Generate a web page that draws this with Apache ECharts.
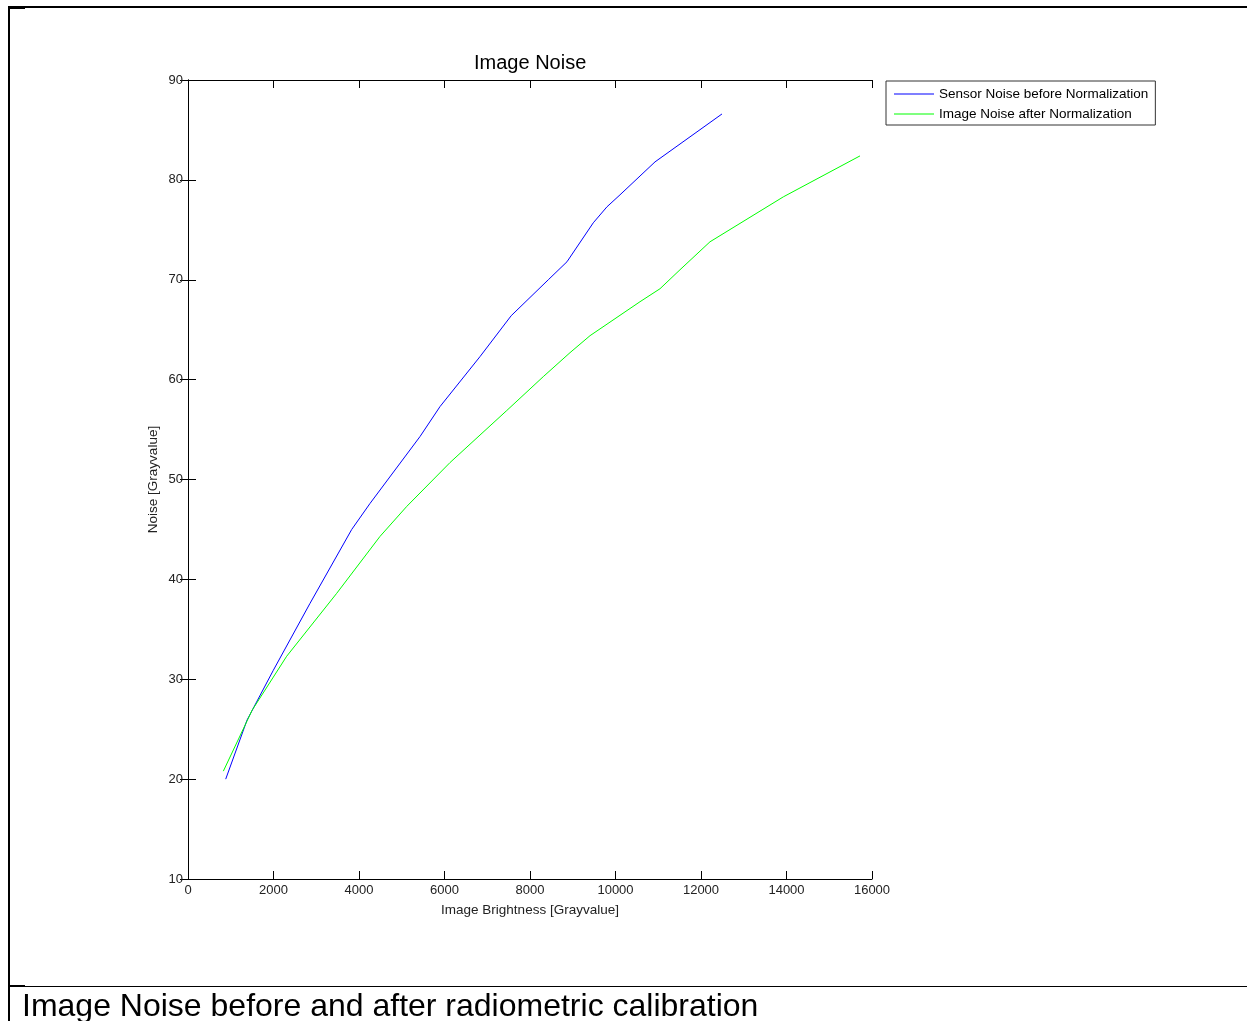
<!DOCTYPE html>
<html>
<head>
<meta charset="utf-8">
<script src="https://cdn.jsdelivr.net/npm/echarts@6/dist/echarts.min.js"></script>
<style>
html,body{margin:0;padding:0;background:#fff;}
#chart{width:1247px;height:1021px;}
</style>
</head>
<body>
<div id="chart"></div>
<script>
// ---- data ----
const seriesNames = ['Sensor Noise before Normalization', 'Image Noise after Normalization'];
const blueX = [882, 1380, 1996, 2854, 3830, 4257, 5427, 5895, 6830, 7560, 8428, 8865, 9480, 9800, 10105, 10924, 12491];
const blueY = [20.0, 25.9, 30.9, 37.6, 45.0, 47.6, 54.3, 57.3, 62.3, 66.4, 70.0, 71.8, 75.7, 77.3, 78.5, 81.8, 86.6];
const greenX = [827, 1500, 2308, 3478, 4491, 5116, 6130, 7455, 8311, 8936, 9404, 10573, 11041, 11509, 12210, 13926, 15719];
const greenY = [20.8, 26.9, 32.3, 38.6, 44.3, 47.3, 51.7, 56.9, 60.3, 62.7, 64.4, 67.8, 69.1, 71.0, 73.8, 78.3, 82.4];
const xTicks = {min: 0, max: 16000, interval: 2000};
const yTicks = {min: 10, max: 90, interval: 10};
const titleText = 'Image Noise';
const xName = 'Image Brightness [Grayvalue]';
const yName = 'Noise [Grayvalue]';
const captionText = 'Image Noise before and after radiometric calibration';
const seriesColors = ['#0000ff', '#00ff00'];

const pairs = (xs, ys) => xs.map((x, i) => [x, ys[i]]);
const FONT = 'Liberation Sans';

const chart = echarts.init(document.getElementById('chart'), null, {renderer: 'canvas'});

const baseAxisLine = {show: true, lineStyle: {color: '#000', width: 1}};
const tickIn = {show: true, inside: true, length: 8, lineStyle: {color: '#000', width: 1}};

chart.setOption({
  backgroundColor: '#fff',
  animation: false,
  title: {
    text: titleText,
    left: 474, top: 53, padding: 0,
    textStyle: {fontFamily: FONT, fontSize: 20, fontWeight: 'normal', color: '#000'}
  },
  legend: {
    orient: 'vertical',
    left: 886, top: 81,
    padding: [6, 7, 4, 8],
    itemGap: 6,
    itemWidth: 40, itemHeight: 1,
    icon: 'rect',
    itemStyle: {borderWidth: 0},
    borderColor: '#333', borderWidth: 1,
    backgroundColor: '#fff',
    textStyle: {fontFamily: FONT, fontSize: 13.5, color: '#000'},
    data: seriesNames.map((n, i) => ({name: n, itemStyle: {color: seriesColors[i], borderWidth: 0}}))
  },
  grid: {left: 188, top: 80, width: 684, height: 799, show: false, containLabel: false},
  xAxis: [
    {
      type: 'value', position: 'bottom', min: xTicks.min, max: xTicks.max, interval: xTicks.interval,
      axisLine: baseAxisLine, axisTick: tickIn, splitLine: {show: false},
      axisLabel: {fontFamily: FONT, fontSize: 13, color: '#222', margin: 5, formatter: v => String(v)},
      name: xName, nameLocation: 'middle', nameGap: 24,
      nameTextStyle: {fontFamily: FONT, fontSize: 13.5, color: '#222'}
    },
    {
      type: 'value', position: 'top', min: xTicks.min, max: xTicks.max, interval: xTicks.interval,
      axisLine: baseAxisLine, axisTick: tickIn, splitLine: {show: false},
      axisLabel: {show: false}
    }
  ],
  yAxis: [
    {
      type: 'value', position: 'left', min: yTicks.min, max: yTicks.max, interval: yTicks.interval,
      axisLine: baseAxisLine, axisTick: tickIn, splitLine: {show: false},
      axisLabel: {fontFamily: FONT, fontSize: 13, color: '#222', margin: 5},
      name: yName, nameLocation: 'middle', nameGap: 28, nameMoveOverlap: false,
      nameTextStyle: {fontFamily: FONT, fontSize: 13.5, color: '#222'}
    },
    {
      type: 'value', position: 'right', min: yTicks.min, max: yTicks.max, interval: yTicks.interval,
      axisLine: baseAxisLine, axisTick: tickIn, splitLine: {show: false},
      axisLabel: {show: false}
    }
  ],
  series: [
    {
      name: seriesNames[0], type: 'line', xAxisIndex: 0, yAxisIndex: 0,
      data: pairs(blueX, blueY), symbol: 'none', smooth: false,
      lineStyle: {color: seriesColors[0], width: 1}, itemStyle: {color: seriesColors[0]}
    },
    {
      name: seriesNames[1], type: 'line', xAxisIndex: 0, yAxisIndex: 0,
      data: pairs(greenX, greenY), symbol: 'none', smooth: false,
      lineStyle: {color: seriesColors[1], width: 1}, itemStyle: {color: seriesColors[1]}
    }
  ],
  graphic: [
    {type: 'rect', shape: {x: 8, y: 6, width: 1239, height: 2}, style: {fill: '#000'}, silent: true},
    {type: 'rect', shape: {x: 8, y: 6, width: 2, height: 1015}, style: {fill: '#000'}, silent: true},
    {type: 'rect', shape: {x: 8, y: 8, width: 17, height: 1}, style: {fill: '#000'}, silent: true},
    {type: 'rect', shape: {x: 8, y: 985, width: 17, height: 1}, style: {fill: '#000'}, silent: true},
    {type: 'rect', shape: {x: 8, y: 986, width: 1239, height: 1}, style: {fill: '#000'}, silent: true},
    {
      type: 'text', left: 22, top: 991, silent: true,
      style: {text: captionText, fontFamily: FONT, fontSize: 32, fill: '#000'}
    }
  ]
});
</script>
</body>
</html>
